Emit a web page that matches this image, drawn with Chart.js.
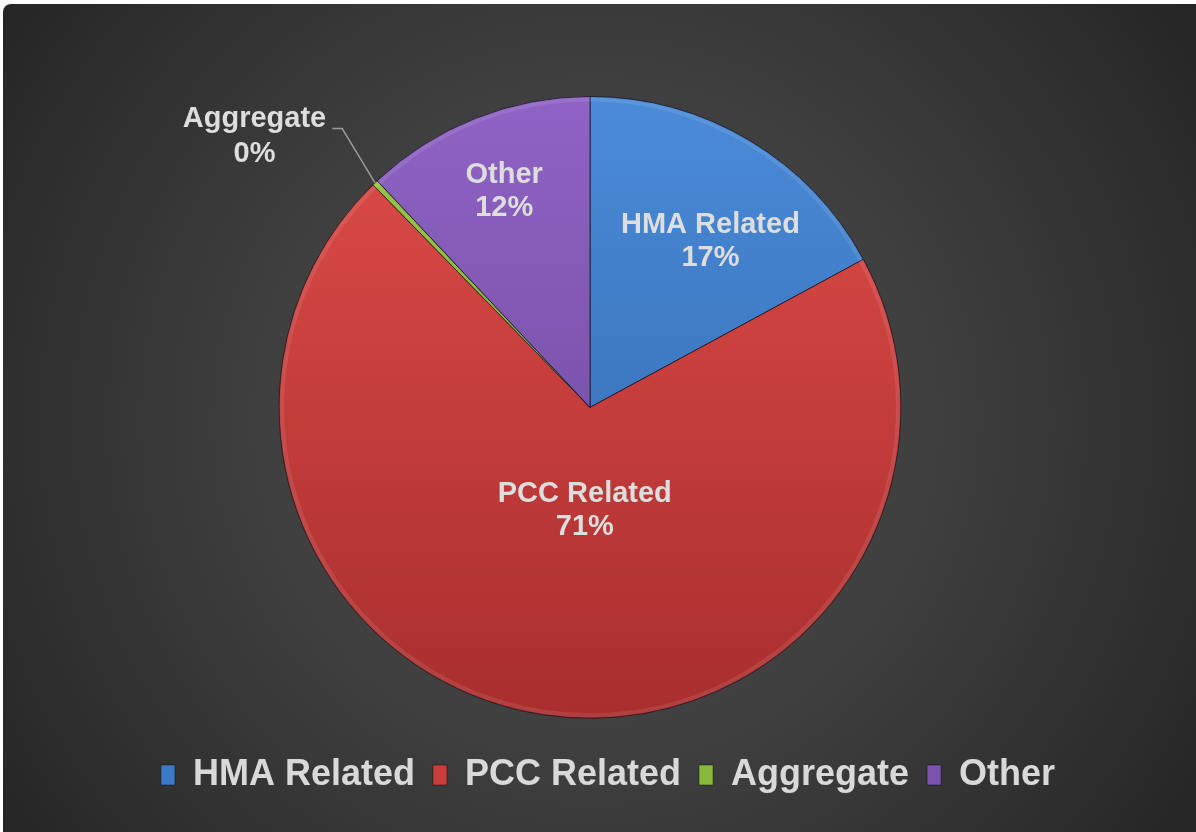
<!DOCTYPE html>
<html>
<head>
<meta charset="utf-8">
<script src="https://cdn.jsdelivr.net/npm/chart.js@4.4.0/dist/chart.umd.min.js"></script>
<style>
html, body { margin: 0; padding: 0; background: #fff; }
#wrap { width: 1196px; height: 832px; }
</style>
</head>
<body>
<div id="wrap"><canvas id="chart-material"></canvas></div>
<script>
var categories = ['HMA Related', 'PCC Related', 'Aggregate', 'Other'];
var shares = [17.1, 70.6, 0.3, 12.0];

var topColors = ['#4b8bd9', '#df4c49', '#9bcb48', '#8f63c5'];
var bottomColors = ['#2e64a8', '#a92e2e', '#6f9a2c', '#684594'];
var legendColors = ['#3b79c7', '#c93d3b', '#87b93a', '#7b53af'];
var labelSpots = [0.66, 0.33, 1.0, 0.75];
var labelTurn = [0.09, -0.1, 0, 0];

var FONT = '"Liberation Sans", Arial, sans-serif';

// dark rounded panel with a soft radial light behind the pie
var panelBg = {
    id: 'panelBg',
    beforeDraw: function(chart) {
        var ctx = chart.ctx;
        ctx.save();
        ctx.fillStyle = '#fff';
        ctx.fillRect(0, 0, chart.width, chart.height);
        var g = ctx.createRadialGradient(596, 420, 0, 596, 420, 760);
        g.addColorStop(0, '#525252');
        g.addColorStop(0.55, '#3a3a3a');
        g.addColorStop(1, '#232323');
        ctx.fillStyle = g;
        ctx.beginPath();
        ctx.roundRect(3, 4, chart.width - 3, chart.height - 4, [8, 0, 0, 0]);
        ctx.fill();
        ctx.restore();
    }
};

// legend sits a bit right of the pie centre in the original
var legendShift = {
    id: 'legendShift',
    afterLayout: function(chart) {
        chart.legend.left += 18;
        chart.legend.right += 18;
    }
};

// slice labels: name + rounded percent
var sliceLabels = {
    id: 'sliceLabels',
    afterDatasetsDraw: function(chart) {
        var ctx = chart.ctx;
        var meta = chart.getDatasetMeta(0);
        var total = shares.reduce(function(a, b) { return a + b; }, 0);
        ctx.save();
        ctx.font = 'bold 29px ' + FONT;
        ctx.textAlign = 'center';
        ctx.textBaseline = 'middle';
        meta.data.forEach(function(arc, i) {
            var p = arc.getProps(['x', 'y', 'startAngle', 'endAngle', 'outerRadius'], true);
            var mid = (p.startAngle + p.endAngle) / 2;
            var pct = Math.round(shares[i] / total * 100) + '%';

            // bevel-ish rim highlight
            ctx.save();
            ctx.beginPath();
            ctx.arc(p.x, p.y, p.outerRadius - 3, p.startAngle, p.endAngle);
            ctx.strokeStyle = 'rgba(255,255,255,0.09)';
            ctx.lineWidth = 4;
            ctx.stroke();
            ctx.restore();

            if (i === 2) {
                var r = p.outerRadius;
                var ex = p.x + r * Math.cos(mid), ey = p.y + r * Math.sin(mid);
                var kx = p.x + 1.2 * r * Math.cos(mid + 0.037), ky = p.y + 1.2 * r * Math.sin(mid + 0.037);
                ctx.beginPath();
                ctx.moveTo(ex, ey);
                ctx.lineTo(kx, ky);
                ctx.lineTo(kx - 10, ky);
                ctx.strokeStyle = '#9a9a9a';
                ctx.lineWidth = 1.5;
                ctx.stroke();
                var w = ctx.measureText(categories[i]).width;
                var cx = kx - 16 - w / 2;
                ctx.fillStyle = '#dedede';
                ctx.fillText(categories[i], cx, ky - 9);
                ctx.fillText(pct, cx, ky + 26);
                return;
            }
            var d = p.outerRadius * labelSpots[i];
            var a = mid + labelTurn[i];
            var lx = p.x + d * Math.cos(a), ly = p.y + d * Math.sin(a);
            ctx.fillStyle = '#dedede';
            ctx.fillText(categories[i], lx, ly - 16);
            ctx.fillText(pct, lx, ly + 17);
        });
        ctx.restore();
    }
};

var ctx = document.getElementById('chart-material');
var materialPie = new Chart(ctx, {
    type: 'pie',
    data: {
        labels: categories,
        datasets: [{
            data: shares,
            backgroundColor: function(c) {
                var area = c.chart.chartArea;
                if (!area) return legendColors[c.dataIndex];
                var g = c.chart.ctx.createLinearGradient(0, area.top, 0, area.bottom);
                g.addColorStop(0, topColors[c.dataIndex]);
                g.addColorStop(1, bottomColors[c.dataIndex]);
                return g;
            },
            borderColor: 'rgba(20,20,30,0.75)',
            borderWidth: 1
        }]
    },
    options: {
        responsive: true,
        maintainAspectRatio: false,
        animation: false,
        layout: { padding: { top: 96, bottom: 29, left: 0, right: 16 } },
        plugins: {
            tooltip: { enabled: false },
            legend: {
                position: 'bottom',
                title: { display: true, text: '', font: { size: 1 }, padding: { top: 19, bottom: 0 } },
                labels: {
                    boxWidth: 14,
                    boxHeight: 20,
                    padding: 18,
                    color: '#d9d9d9',
                    font: { family: FONT, size: 36, weight: 'bold' },
                    generateLabels: function(chart) {
                        return categories.map(function(name, i) {
                            return {
                                text: name,
                                fillStyle: legendColors[i],
                                strokeStyle: 'rgba(0,0,0,0.4)',
                                lineWidth: 1,
                                fontColor: '#d9d9d9',
                                hidden: false,
                                index: i
                            };
                        });
                    }
                }
            }
        }
    },
    plugins: [panelBg, legendShift, sliceLabels]
});
</script>
</body>
</html>
